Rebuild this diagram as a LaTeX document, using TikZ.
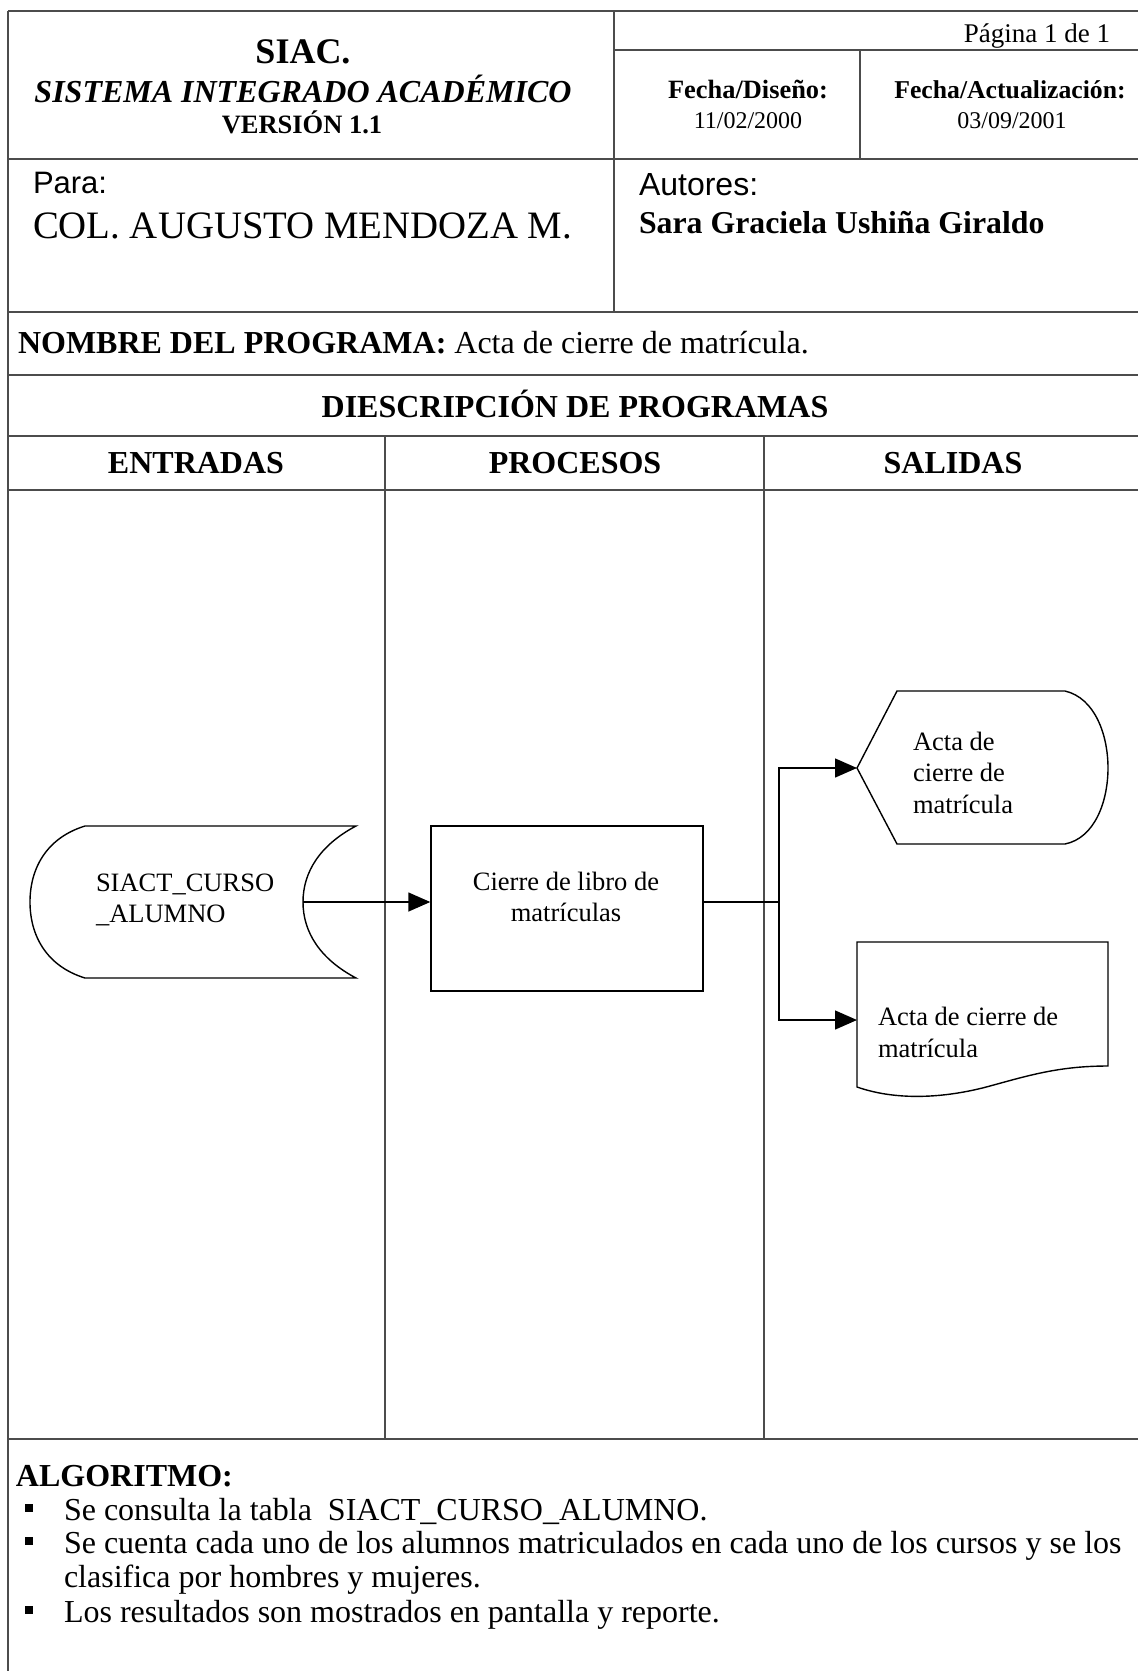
\documentclass[tikz,border=0pt]{standalone}
\usepackage{fontspec}
\setmainfont{Liberation Serif}
\newfontfamily\sansarial{Liberation Sans}
\usetikzlibrary{arrows.meta}
\newcommand\myfs[1]{\fontsize{#1}{#1}\selectfont}
\begin{document}
\begin{tikzpicture}[x=1pt,y=-1pt,
  tline/.style={draw=black!70, line width=1.3pt},
  flow/.style={draw=black, line width=1.4pt},
  arr/.style={flow, -{Triangle[length=22pt,width=19pt]}},
  txt/.style={inner sep=0pt, outer sep=0pt},
  body/.style={txt, font=\myfs{32}},
  flowtxt/.style={txt, font=\fontsize{26.5}{31.5}\selectfont, align=left},
  bullet/.style={fill=black, minimum size=8pt, inner sep=0pt},
]
\fill[white] (0,0) rectangle (1138,1671);
\useasboundingbox (0,0) rectangle (1138,1671);

% table lines
\draw[tline] (8,11) -- (1138,11);
\draw[tline] (8,11) -- (8,1671);
\draw[tline] (614,11) -- (614,312);
\draw[tline] (614,50) -- (1138,50);
\draw[tline] (860,50) -- (860,159);
\draw[tline] (8,159) -- (1138,159);
\draw[tline] (8,312) -- (1138,312);
\draw[tline] (8,375) -- (1138,375);
\draw[tline] (8,436) -- (1138,436);
\draw[tline] (8,490) -- (1138,490);
\draw[tline] (385,436) -- (385,1439);
\draw[tline] (764,436) -- (764,1439);
\draw[tline] (8,1439) -- (1138,1439);

% header texts
\node[txt, anchor=base, font=\bfseries\myfs{36}] (siac) at (303,63) {SIAC.};
\node[txt, anchor=base, font=\bfseries\itshape\myfs{32}] (sistema) at (303,102) {SISTEMA INTEGRADO ACADÉMICO};
\node[txt, anchor=base, font=\bfseries\myfs{26.5}] (version) at (302,133) {VERSIÓN 1.1};
\node[txt, anchor=base east, font=\myfs{27}] (pagina) at (1110,42) {Página 1 de 1};
\node[txt, anchor=base, font=\bfseries\myfs{26.4}] (fdis) at (748,98) {Fecha/Diseño:};
\node[txt, anchor=base, font=\myfs{24}] (fdisv) at (748,128) {11/02/2000};
\node[txt, anchor=base, font=\bfseries\myfs{25.7}] (fact) at (1010,98) {Fecha/Actualización:};
\node[txt, anchor=base, font=\myfs{24}] (factv) at (1012,128) {03/09/2001};
\node[txt, anchor=base west, font=\sansarial\myfs{31}] (para) at (33,193) {Para:};
\node[txt, anchor=base west, font=\myfs{38.8}] (col) at (33,238) {COL. AUGUSTO MENDOZA M.};
\node[txt, anchor=base west, font=\sansarial\myfs{32}] (autores) at (639,195) {Autores:};
\node[txt, anchor=base west, font=\bfseries\myfs{31.8}] (sara) at (639,233) {Sara Graciela Ushiña Giraldo};
\node[body, anchor=base west] (nombre) at (18,353) {\textbf{NOMBRE DEL PROGRAMA:} Acta de cierre de matrícula.};
\node[txt, anchor=base, font=\bfseries\myfs{32}] (desc) at (575,417) {DIESCRIPCIÓN DE PROGRAMAS};
\node[txt, anchor=base, font=\bfseries\myfs{32}] (entr) at (196,473) {ENTRADAS};
\node[txt, anchor=base, font=\bfseries\myfs{32}] (proch) at (575,473) {PROCESOS};
\node[txt, anchor=base, font=\bfseries\myfs{32}] (sal) at (953,473) {SALIDAS};

% flow shapes
\draw[flow] (85,826) -- (356,826) .. controls (320,845) and (303,872) .. (303,902)
  .. controls (303,932) and (320,959) .. (356,978) -- (85,978)
  .. controls (46,966) and (30,935) .. (30,902)
  .. controls (30,869) and (46,838) .. (85,826) -- cycle;
\coordinate (storeR) at (303,902);
\node[flowtxt, anchor=base west] (storetxt) at (96,922.5) {SIACT\_CURSO\\\_ALUMNO};

\node[flow, minimum width=272pt, minimum height=165pt, inner sep=0pt] (proc) at (567,908.5) {};
\node[flowtxt, align=center, anchor=base] (proctxt) at (566,921.5) {Cierre de libro de\\matrículas};

\draw[flow] (857,768) -- (897,691) -- (1065,691)
  .. controls (1095,698) and (1108,735) .. (1108,768)
  .. controls (1108,801) and (1095,838) .. (1065,844) -- (897,844) -- cycle;
\coordinate (dispL) at (857,768);
\node[flowtxt, anchor=base west] (disptxt) at (913,813) {Acta de\\cierre de\\matrícula};

\draw[flow] (857,942) -- (1108,942) -- (1108,1066)
  .. controls (1060,1066) and (1030,1075) .. (990,1086)
  .. controls (950,1097) and (900,1102) .. (857,1087) -- cycle;
\coordinate (docL) at (857,1020);
\node[flowtxt, anchor=base west] (doctxt) at (878,1057) {Acta de cierre de\\matrícula};

% connectors
\coordinate (jn) at (779,902);
\draw[arr] (storeR) -- (storeR -| proc.west);
\draw[flow] (storeR -| proc.east) -- (jn);
\draw[arr] (jn) |- (dispL);
\draw[arr] (jn) |- (docL);

% algorithm
\node[txt, anchor=base west, font=\bfseries\myfs{32}] (alg) at (16,1486) {ALGORITMO:};
\node[bullet] (k1) at (29,1508) {};
\node[body, anchor=base west] (b1) at (64,1520) {Se consulta la tabla\ \ SIACT\_CURSO\_ALUMNO.};
\node[bullet] (k2) at (29,1541) {};
\node[txt, anchor=base west, align=left, font=\fontsize{32}{34}\selectfont] (b2) at (64,1587) {Se cuenta cada uno de los alumnos matriculados en cada uno de los cursos y se los\\clasifica por hombres y mujeres.};
\node[bullet] (k3) at (29,1610) {};
\node[body, anchor=base west] (b3) at (64,1622) {Los resultados son mostrados en pantalla y reporte.};
\end{tikzpicture}
\end{document}
